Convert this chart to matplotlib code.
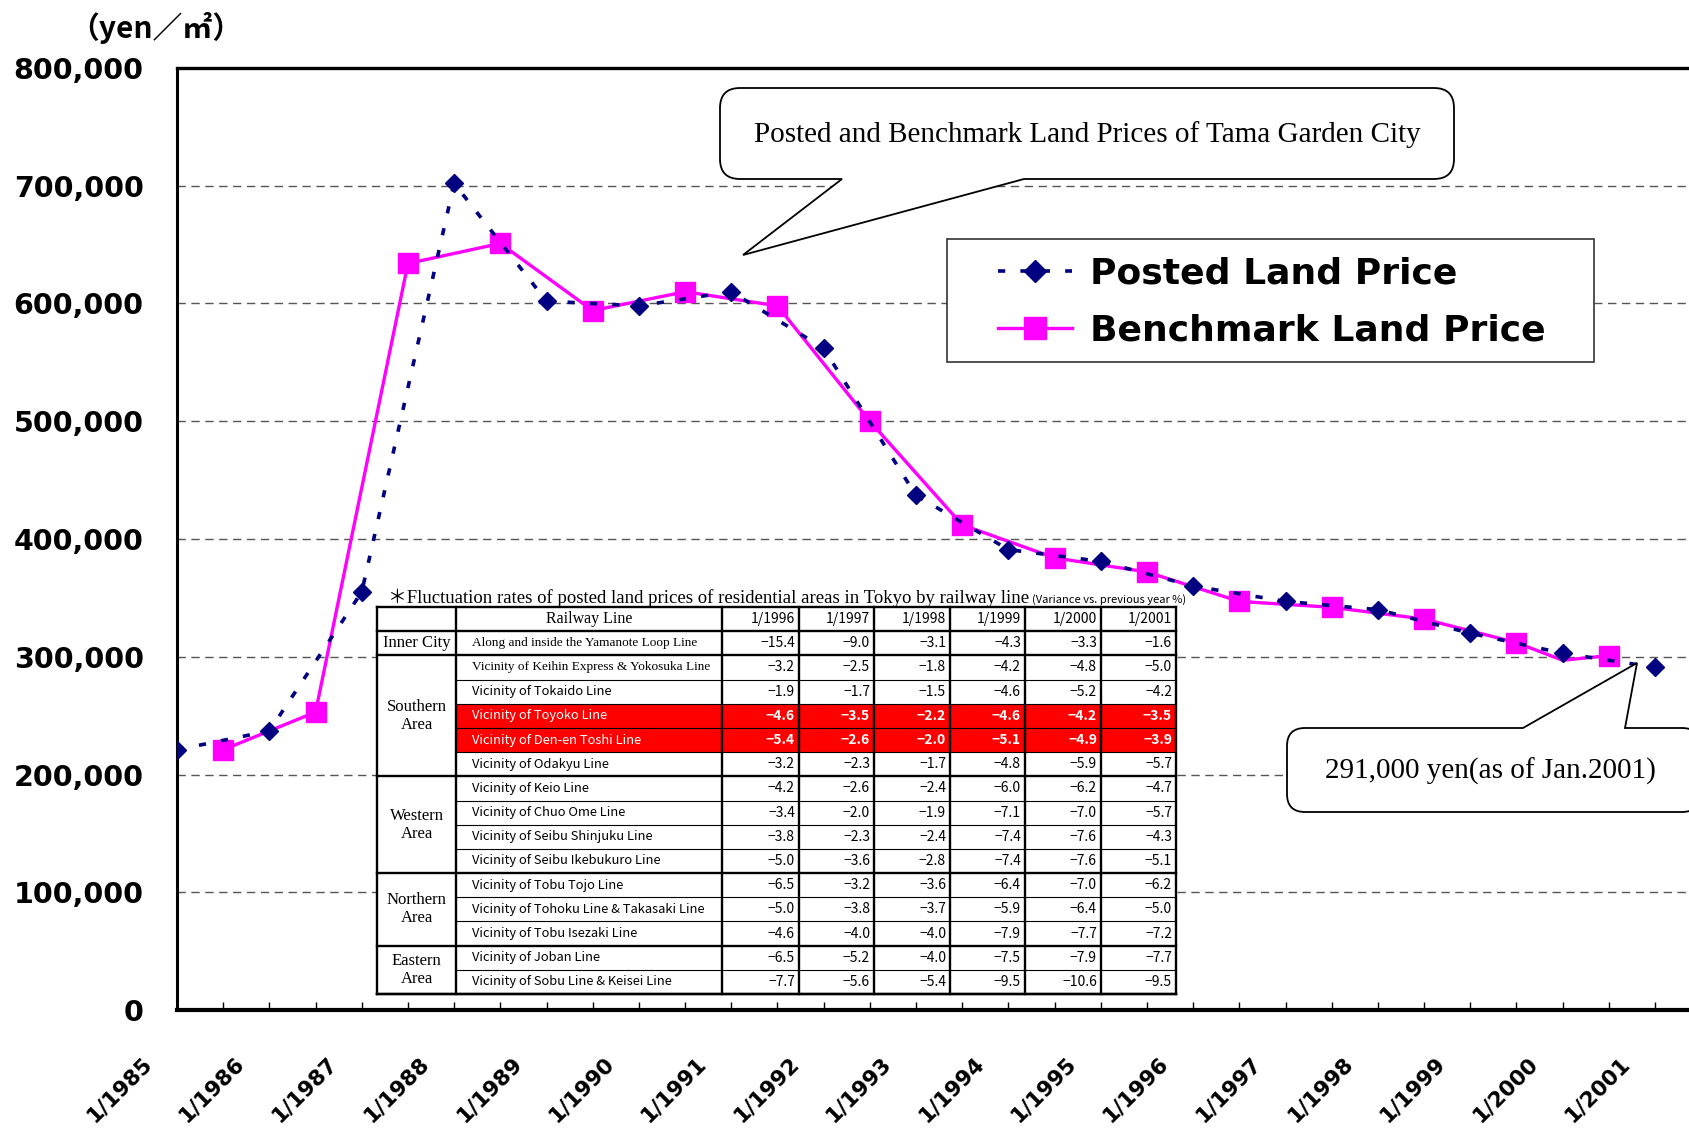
import numpy as np
import matplotlib
matplotlib.use("Agg")
import matplotlib.pyplot as plt
from matplotlib.patches import Rectangle, PathPatch
from matplotlib.path import Path
from matplotlib.lines import Line2D
from matplotlib.transforms import ScaledTranslation

W, H = 1689, 1129

# --- chart data ---
posted_years = list(range(1985, 2002))
posted_price = [221000, 237000, 355000, 702000, 602000, 598000, 610000, 562000,
                437000, 391000, 381000, 360000, 347000, 340000, 320000, 303000, 291000]

bench_years = [1985.5, 1986.5, 1987.5, 1988.5, 1989.5, 1990.5, 1991.5, 1992.5,
               1993.5, 1994.5, 1995.5, 1996.5, 1997.5, 1998.5, 1999.5, 2000.0, 2000.5]
bench_price = [221000, 253000, 634000, 651000, 594000, 610000, 598000, 500000,
               412000, 384000, 372000, 347000, 342000, 332000, 312000, 297000, 301000]
bench_marked = [True] * 15 + [False, True]

year_labels = ["1/%d" % y for y in posted_years]

# --- table data ---
table_title = "＊Fluctuation rates of posted land prices of residential areas in Tokyo by railway line"
table_note = "(Variance vs. previous year %)"
table_years = ["1/1996", "1/1997", "1/1998", "1/1999", "1/2000", "1/2001"]
area_names = ["Inner City", "Southern\nArea", "Western\nArea", "Northern\nArea", "Eastern\nArea"]
area_sizes = [1, 5, 4, 3, 2]
railway_lines = [
    "Along and inside the Yamanote Loop Line",
    "Vicinity of Keihin Express & Yokosuka Line",
    "Vicinity of Tokaido Line",
    "Vicinity of Toyoko Line",
    "Vicinity of Den-en Toshi Line",
    "Vicinity of Odakyu Line",
    "Vicinity of Keio Line",
    "Vicinity of Chuo Ome Line",
    "Vicinity of Seibu Shinjuku Line",
    "Vicinity of Seibu Ikebukuro Line",
    "Vicinity of Tobu Tojo Line",
    "Vicinity of Tohoku Line & Takasaki Line",
    "Vicinity of Tobu Isezaki Line",
    "Vicinity of Joban Line",
    "Vicinity of Sobu Line & Keisei Line",
]
serif_lines = ["Along and inside the Yamanote Loop Line",
               "Vicinity of Keihin Express & Yokosuka Line"]
highlight_lines = ["Vicinity of Toyoko Line", "Vicinity of Den-en Toshi Line"]
rates = [
    [-15.4, -9.0, -3.1, -4.3, -3.3, -1.6],
    [-3.2, -2.5, -1.8, -4.2, -4.8, -5.0],
    [-1.9, -1.7, -1.5, -4.6, -5.2, -4.2],
    [-4.6, -3.5, -2.2, -4.6, -4.2, -3.5],
    [-5.4, -2.6, -2.0, -5.1, -4.9, -3.9],
    [-3.2, -2.3, -1.7, -4.8, -5.9, -5.7],
    [-4.2, -2.6, -2.4, -6.0, -6.2, -4.7],
    [-3.4, -2.0, -1.9, -7.1, -7.0, -5.7],
    [-3.8, -2.3, -2.4, -7.4, -7.6, -4.3],
    [-5.0, -3.6, -2.8, -7.4, -7.6, -5.1],
    [-6.5, -3.2, -3.6, -6.4, -7.0, -6.2],
    [-5.0, -3.8, -3.7, -5.9, -6.4, -5.0],
    [-4.6, -4.0, -4.0, -7.9, -7.7, -7.2],
    [-6.5, -5.2, -4.0, -7.5, -7.9, -7.7],
    [-7.7, -5.6, -5.4, -9.5, -10.6, -9.5],
]

SERIF = ["Liberation Serif", "Noto Sans CJK JP"]
GOTHIC = ["Noto Sans CJK JP", "DejaVu Sans"]


def fx(x):
    return x / W


def fy(y):
    return 1 - y / H


fig = plt.figure(figsize=(W / 100, H / 100), dpi=100)
ax = fig.add_axes([fx(177), fy(1010), fx(W) - fx(177), fy(68) - fy(1010)])

# --- series ---
ax.plot(bench_years, bench_price, color="#FF00FF", lw=2.4, zorder=5)
bx = [x for x, m in zip(bench_years, bench_marked) if m]
by = [v for v, m in zip(bench_price, bench_marked) if m]
ax.plot(bx, by, ls="none", marker="s", ms=14.4, color="#FF00FF", zorder=5)
posted_style = dict(color="#000080", lw=2.6, ls=(0, (2.0, 4.2)), dash_capstyle="butt")
ax.plot(posted_years, posted_price, marker="D", ms=9.4, zorder=6, **posted_style)

# --- axes ---
ax.set_xlim(1985, 1985 + (W - 177) / 92.375)
ax.set_ylim(0, 800000)
ax.set_yticks(range(0, 800001, 100000))
ax.set_yticklabels(["{:,}".format(v) for v in range(0, 800001, 100000)],
                   family="DejaVu Sans", weight="bold", size=20.5)
ax.tick_params(axis="y", length=0, pad=24)
ax.set_xticks(posted_years)
ax.set_xticks(bench_years, minor=True)
ax.set_xticklabels(year_labels, rotation=45, ha="right", va="top",
                   family="DejaVu Sans", weight="bold", size=15.5)
ax.tick_params(axis="x", which="both", direction="in", length=6, width=1, pad=31)
shift = ScaledTranslation(-0.21, 0, fig.dpi_scale_trans)
for lab in ax.get_xticklabels():
    lab.set_transform(lab.get_transform() + shift)

ax.yaxis.grid(True, color="#555555", lw=1.0, ls=(0, (6, 4)))
ax.set_axisbelow(True)
ax.spines["right"].set_visible(False)
ax.spines["left"].set_linewidth(2.2)
ax.spines["top"].set_linewidth(2.4)
ax.spines["bottom"].set_linewidth(3.0)

fig.text(fx(156), fy(28), "（yen／㎡）", family=GOTHIC, weight="bold", size=21.5,
         ha="center", va="center")


# --- helpers in pixel coordinates ---
def add_rect(x0, y0, x1, y1, fc, ec="none", lw=0, z=3):
    ax.add_patch(Rectangle((fx(x0), fy(y1)), fx(x1) - fx(x0), fy(y0) - fy(y1),
                           transform=fig.transFigure, fc=fc, ec=ec, lw=lw,
                           zorder=z, clip_on=False))


def add_seg(x0, y0, x1, y1, lw, z=3.5):
    ax.add_line(Line2D([fx(x0), fx(x1)], [fy(y0), fy(y1)], transform=fig.transFigure,
                       color="black", lw=lw, zorder=z, clip_on=False,
                       solid_capstyle="projecting"))


def add_text(x, y, s, z=4, **kw):
    ax.text(fx(x), fy(y), s, transform=fig.transFigure, zorder=z, **kw)


def callout(x0, y0, x1, y1, r, side, b0, b1, tip):
    verts, codes = [], []

    def mv(p):
        verts.append(p)
        codes.append(Path.MOVETO)

    def ln(p):
        verts.append(p)
        codes.append(Path.LINETO)

    def cv(c, p):
        verts.extend([c, p])
        codes.extend([Path.CURVE3, Path.CURVE3])

    mv((x0 + r, y0))
    if side == "top":
        ln((b0, y0)); ln(tip); ln((b1, y0))
    ln((x1 - r, y0)); cv((x1, y0), (x1, y0 + r))
    ln((x1, y1 - r)); cv((x1, y1), (x1 - r, y1))
    if side == "bottom":
        ln((b1, y1)); ln(tip); ln((b0, y1))
    ln((x0 + r, y1)); cv((x0, y1), (x0, y1 - r))
    ln((x0, y0 + r)); cv((x0, y0), (x0 + r, y0))
    verts.append((x0 + r, y0))
    codes.append(Path.CLOSEPOLY)
    path = Path([(fx(a), fy(b)) for a, b in verts], codes)
    ax.add_patch(PathPatch(path, transform=fig.transFigure, fc="white", ec="black",
                           lw=1.3, zorder=7, clip_on=False))


# --- callouts ---
callout(720, 88, 1454, 179, 20, "bottom", 842, 1024, (743, 255))
add_text(1087, 135, "Posted and Benchmark Land Prices of Tama Garden City",
         z=8, family=SERIF, size=21, ha="center", va="center")
callout(1287, 728, 1700, 812, 18, "top", 1523, 1625, (1637, 663))
add_text(1490, 771, "291,000 yen(as of Jan.2001)",
         z=8, family=SERIF, size=21, ha="center", va="center")

# --- legend ---
add_rect(947, 239, 1594, 362, fc="white", ec="#333333", lw=1.2, z=8)
h_posted = Line2D([], [], marker="D", ms=11, **posted_style)
h_bench = Line2D([], [], color="#FF00FF", lw=2.4, marker="s", ms=16)
leg = ax.legend([h_posted, h_bench], ["Posted Land Price", "Benchmark Land Price"],
                loc="center", bbox_to_anchor=(fx(1272), fy(302)),
                bbox_transform=fig.transFigure, frameon=False,
                prop=dict(family="DejaVu Sans", weight="bold", size=26),
                handlelength=2.05, handletextpad=0.5, labelspacing=0.62,
                borderpad=0, borderaxespad=0)
leg.set_zorder(9)

# --- table ---
x_cols = [377, 456, 722, 799, 874, 950, 1025, 1101, 1176]
y_top, y_bot = 607, 994
rh = (y_bot - y_top) / (len(railway_lines) + 1)


def row_edge(i):
    return y_top + i * rh


add_rect(x_cols[0], y_top, x_cols[-1], y_bot, fc="white")
for k, name in enumerate(railway_lines):
    if name in highlight_lines:
        add_rect(x_cols[1], row_edge(k + 1), x_cols[-1], row_edge(k + 2), fc="#FF0000", z=3.1)

thick, thin = 1.7, 0.8
# outer border and column lines
add_seg(x_cols[0], y_top, x_cols[-1], y_top, thick)
add_seg(x_cols[0], y_bot, x_cols[-1], y_bot, thick)
for xc in x_cols:
    add_seg(xc, y_top, xc, y_bot, thick)
# header line and group separators
add_seg(x_cols[0], row_edge(1), x_cols[-1], row_edge(1), thick)
start = 0
for name, size in zip(area_names, area_sizes):
    top_e = row_edge(start + 1)
    bot_e = row_edge(start + size + 1)
    add_seg(x_cols[0], bot_e, x_cols[-1], bot_e, thick)
    for j in range(1, size):
        yy = row_edge(start + j + 1)
        add_seg(x_cols[1], yy, x_cols[-1], yy, thin)
    add_text((x_cols[0] + x_cols[1]) / 2, (top_e + bot_e) / 2, name, family=SERIF,
             size=12, ha="center", va="center", linespacing=1.15)
    start += size

# header texts
hy = (row_edge(0) + row_edge(1)) / 2
add_text((x_cols[1] + x_cols[2]) / 2, hy, "Railway Line", family=SERIF, size=11.5,
         ha="center", va="center")
for j, lab in enumerate(table_years):
    add_text(x_cols[j + 3] - 4, hy, lab, family=GOTHIC, size=10, ha="right", va="center")

# body
for k, name in enumerate(railway_lines):
    cy = (row_edge(k + 1) + row_edge(k + 2)) / 2
    hot = name in highlight_lines
    col = "white" if hot else "black"
    if name in serif_lines:
        add_text(472, cy, name, family=SERIF, size=9.5, ha="left", va="center", color=col)
    else:
        add_text(472, cy, name, family=GOTHIC, size=9.3, ha="left", va="center", color=col)
    for j, v in enumerate(rates[k]):
        add_text(x_cols[j + 3] - 4, cy, "\u2212%.1f" % abs(v), family=GOTHIC, size=10,
                 ha="right", va="center", color=col,
                 weight="bold" if hot else "normal")

add_text(388, 603, table_title, family=SERIF, size=13.5, ha="left", va="baseline")
add_text(1032, 603, table_note, family=GOTHIC, size=8, ha="left", va="baseline")

fig.savefig("out.png", dpi=100)
